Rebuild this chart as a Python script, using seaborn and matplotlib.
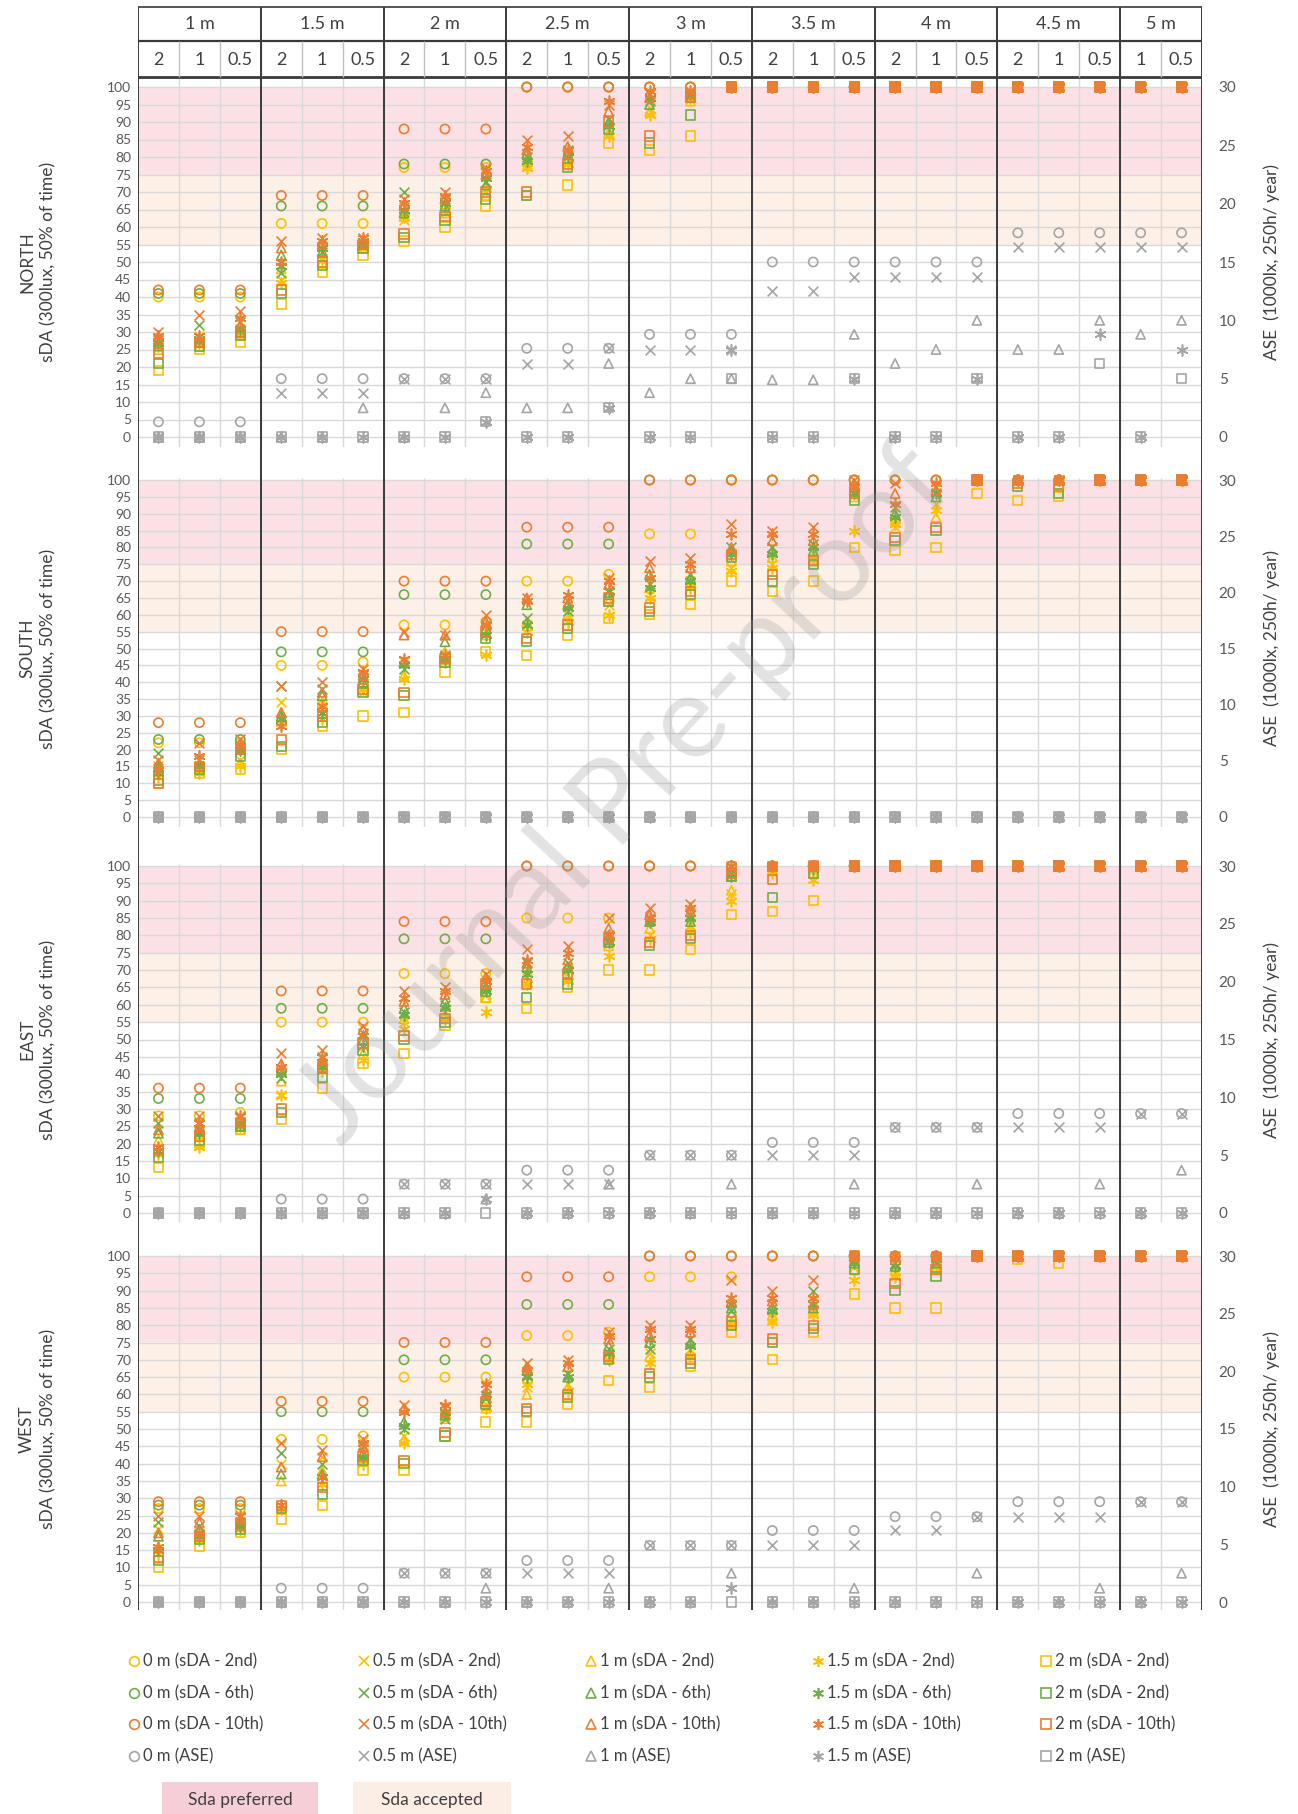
import matplotlib
matplotlib.use("Agg")
import matplotlib.pyplot as plt
import numpy as np
import pandas as pd
import seaborn as sns
from matplotlib.patches import Rectangle

sns.set_theme(style="white")
plt.rcParams['font.family'] = ['Lato', 'DejaVu Sans']

# ---------------- categories ----------------
GROUPS = ['1 m', '1.5 m', '2 m', '2.5 m', '3 m', '3.5 m', '4 m', '4.5 m', '5 m']
GROUP_SIZES = [3, 3, 3, 3, 3, 3, 3, 3, 2]
SUB_LABELS = ['2', '1', '0.5', '2', '1', '0.5', '2', '1', '0.5', '2', '1', '0.5', '2', '1', '0.5',
              '2', '1', '0.5', '2', '1', '0.5', '2', '1', '0.5', '1', '0.5']
DEPTHS = ['0 m', '0.5 m', '1 m', '1.5 m', '2 m']
METRICS = ['sDA - 2nd', 'sDA - 6th', 'sDA - 10th', 'ASE']
PANEL_NAMES = ['NORTH', 'SOUTH', 'EAST', 'WEST']

# ---------------- NORTH ----------------
N_0M_2ND = [40, 40, 40, 61, 61, 61, 77, 77, 77, 100, 100, 100, 100, 100, 100, 100, 100, 100, 100, 100, 100, 100, 100, 100, 100, 100]
N_0M_6TH = [41, 41, 41, 66, 66, 66, 78, 78, 78, 100, 100, 100, 100, 100, 100, 100, 100, 100, 100, 100, 100, 100, 100, 100, 100, 100]
N_0M_10TH = [42, 42, 42, 69, 69, 69, 88, 88, 88, 100, 100, 100, 100, 100, 100, 100, 100, 100, 100, 100, 100, 100, 100, 100, 100, 100]
N_0M_ASE = [1.3, 1.3, 1.3, 5.0, 5.0, 5.0, 5.0, 5.0, 5.0, 7.6, 7.6, 7.6, 8.8, 8.8, 8.8, 15.0, 15.0, 15.0, 15.0, 15.0, 15.0, 17.5, 17.5, 17.5, 17.5, 17.5]
N_05_2ND = [27, 29, 31, 45, 51, 54, 62, 64, 70, 78, 80, 88, 94, 97, 100, 100, 100, 100, 100, 100, 100, 100, 100, 100, 100, 100]
N_05_6TH = [28, 32, 33, 47, 53, 55, 70, 68, 73, 80, 82, 91, 96, 98, 100, 100, 100, 100, 100, 100, 100, 100, 100, 100, 100, 100]
N_05_10TH = [30, 35, 36, 56, 57, 57, 68, 70, 77, 85, 86, 95, 98, 99, 100, 100, 100, 100, 100, 100, 100, 100, 100, 100, 100, 100]
N_05_ASE = [0, 0, 0, 3.8, 3.8, 3.8, 5.0, 5.0, 5.0, 6.3, 6.3, 7.6, 7.5, 7.5, 7.5, 12.5, 12.5, 13.7, 13.7, 13.7, 13.7, 16.3, 16.3, 16.3, 16.3, 16.3]
N_1_2ND = [25, 26, 29, 48, 50, 54, 63, 64, 69, 79, 79, 87, 93, 96, 100, 100, 100, 100, 100, 100, 100, 100, 100, 100, 100, 100]
N_1_6TH = [26, 27, 30, 52, 53, 55, 64, 66, 72, 81, 81, 90, 95, 97, 100, 100, 100, 100, 100, 100, 100, 100, 100, 100, 100, 100]
N_1_10TH = [28, 28, 32, 54, 55, 56, 66, 68, 75, 82, 83, 93, 97, 98, 100, 100, 100, 100, 100, 100, 100, 100, 100, 100, 100, 100]
N_1_ASE = [0, 0, 0, 0, 0, 2.5, 0, 2.5, 3.8, 2.5, 2.5, 6.3, 3.8, 5.0, 5.0, 4.9, 4.9, 8.8, 6.3, 7.5, 10.0, 7.5, 7.5, 10.0, 8.8, 10.0]
N_15_2ND = [26, 27, 30, 44, 51, 55, 63, 65, 71, 77, 78, 86, 92, 97, 100, 100, 100, 100, 100, 100, 100, 100, 100, 100, 100, 100]
N_15_6TH = [27, 28, 31, 49, 54, 56, 65, 67, 74, 79, 80, 89, 97, 98, 100, 100, 100, 100, 100, 100, 100, 100, 100, 100, 100, 100]
N_15_10TH = [29, 29, 34, 50, 56, 57, 67, 69, 76, 83, 82, 96, 99, 99, 100, 100, 100, 100, 100, 100, 100, 100, 100, 100, 100, 100]
N_15_ASE = [0, 0, 0, 0, 0, 0, 0, 0, 1.3, 0, 0, 2.5, 0, 0, 7.5, 0, 0, 5.0, 0, 0, 5.0, 0, 0, 8.8, 0, 7.5]
N_2_2ND = [19, 25, 27, 38, 47, 52, 56, 60, 66, 69, 72, 84, 82, 86, 100, 100, 100, 100, 100, 100, 100, 100, 100, 100, 100, 100]
N_2_6TH = [21, 26, 29, 41, 49, 54, 57, 62, 68, 69, 77, 88, 84, 92, 100, 100, 100, 100, 100, 100, 100, 100, 100, 100, 100, 100]
N_2_10TH = [24, 27, 30, 42, 50, 55, 58, 63, 70, 70, 78, 90, 86, 97, 100, 100, 100, 100, 100, 100, 100, 100, 100, 100, 100, 100]
N_2_ASE = [0, 0, 0, 0, 0, 0, 0, 0, 1.3, 0, 0, 2.5, 0, 0, 5.0, 0, 0, 5.0, 0, 0, 5.0, 0, 0, 6.3, 0, 5.0]

# ---------------- SOUTH ----------------
S_0M_2ND = [22, 22, 22, 45, 45, 46, 57, 57, 58, 70, 70, 72, 84, 84, 100, 100, 100, 100, 100, 100, 100, 100, 100, 100, 100, 100]
S_0M_6TH = [23, 23, 23, 49, 49, 49, 66, 66, 66, 81, 81, 81, 100, 100, 100, 100, 100, 100, 100, 100, 100, 100, 100, 100, 100, 100]
S_0M_10TH = [28, 28, 28, 55, 55, 55, 70, 70, 70, 86, 86, 86, 100, 100, 100, 100, 100, 100, 100, 100, 100, 100, 100, 100, 100, 100]
S_0M_ASE = [0, 0, 0, 0, 0, 0, 0, 0, 0, 0, 0, 0, 0, 0, 0, 0, 0, 0, 0, 0, 0, 0, 0, 0, 0, 0]
S_05_2ND = [15, 15, 17, 34, 33, 37, 46, 47, 55, 57, 60, 63, 66, 70, 74, 75, 78, 96, 86, 93, 100, 100, 100, 100, 100, 100]
S_05_6TH = [19, 17, 21, 39, 38, 42, 44, 48, 57, 59, 61, 67, 69, 72, 80, 80, 81, 98, 92, 96, 100, 100, 100, 100, 100, 100]
S_05_10TH = [17, 22, 23, 39, 40, 44, 55, 54, 60, 65, 64, 71, 76, 77, 87, 85, 86, 100, 99, 98, 100, 100, 100, 100, 100, 100]
S_05_ASE = [0, 0, 0, 0, 0, 0, 0, 0, 0, 0, 0, 0, 0, 0, 0, 0, 0, 0, 0, 0, 0, 0, 0, 0, 0, 0]
S_1_2ND = [14, 14, 16, 31, 34, 38, 42, 49, 54, 58, 60, 64, 68, 69, 76, 77, 76, 95, 88, 89, 100, 100, 100, 100, 100, 100]
S_1_6TH = [15, 15, 20, 30, 36, 40, 46, 52, 56, 63, 63, 66, 72, 71, 79, 79, 79, 97, 90, 95, 100, 100, 100, 100, 100, 100]
S_1_10TH = [16, 16, 22, 31, 37, 42, 54, 54, 58, 65, 65, 69, 74, 74, 80, 82, 82, 99, 96, 97, 100, 100, 100, 100, 100, 100]
S_1_ASE = [0, 0, 0, 0, 0, 0, 0, 0, 0, 0, 0, 0, 0, 0, 0, 0, 0, 0, 0, 0, 0, 0, 0, 0, 0, 0]
S_15_2ND = [12, 13, 15, 28, 29, 38, 41, 46, 48, 55, 58, 60, 65, 68, 73, 74, 77, 85, 87, 91, 100, 100, 100, 100, 100, 100]
S_15_6TH = [13, 15, 20, 29, 31, 41, 45, 47, 54, 57, 62, 67, 68, 70, 78, 78, 80, 96, 89, 96, 100, 100, 100, 100, 100, 100]
S_15_10TH = [14, 18, 21, 27, 33, 43, 47, 48, 57, 64, 66, 70, 71, 75, 84, 84, 84, 98, 93, 99, 100, 100, 100, 100, 100, 100]
S_15_ASE = [0, 0, 0, 0, 0, 0, 0, 0, 0, 0, 0, 0, 0, 0, 0, 0, 0, 0, 0, 0, 0, 0, 0, 0, 0, 0]
S_2_2ND = [10, 13, 14, 20, 27, 30, 31, 43, 49, 48, 54, 59, 60, 63, 70, 67, 70, 80, 79, 80, 96, 94, 95, 100, 100, 100]
S_2_6TH = [11, 14, 18, 21, 28, 37, 36, 46, 53, 52, 56, 64, 61, 66, 77, 70, 75, 94, 82, 85, 100, 98, 96, 100, 100, 100]
S_2_10TH = [10, 15, 20, 23, 30, 38, 37, 47, 55, 53, 57, 65, 62, 67, 78, 72, 76, 96, 83, 86, 100, 99, 98, 100, 100, 100]
S_2_ASE = [0, 0, 0, 0, 0, 0, 0, 0, 0, 0, 0, 0, 0, 0, 0, 0, 0, 0, 0, 0, 0, 0, 0, 0, 0, 0]

# ---------------- EAST ----------------
E_0M_2ND = [28, 28, 29, 55, 55, 55, 69, 69, 69, 85, 85, 85, 100, 100, 100, 100, 100, 100, 100, 100, 100, 100, 100, 100, 100, 100]
E_0M_6TH = [33, 33, 33, 59, 59, 59, 79, 79, 79, 100, 100, 100, 100, 100, 100, 100, 100, 100, 100, 100, 100, 100, 100, 100, 100, 100]
E_0M_10TH = [36, 36, 36, 64, 64, 64, 84, 84, 84, 100, 100, 100, 100, 100, 100, 100, 100, 100, 100, 100, 100, 100, 100, 100, 100, 100]
E_0M_ASE = [0, 0, 0, 1.2, 1.2, 1.2, 2.5, 2.5, 2.5, 3.7, 3.7, 3.7, 5.0, 5.0, 5.0, 6.1, 6.1, 6.1, 7.4, 7.4, 7.4, 8.6, 8.6, 8.6, 8.6, 8.6]
E_05_2ND = [24, 24, 25, 34, 43, 48, 55, 58, 63, 70, 70, 78, 80, 83, 92, 99, 99, 100, 100, 100, 100, 100, 100, 100, 100, 100]
E_05_6TH = [26, 26, 26, 39, 45, 52, 58, 60, 66, 72, 72, 80, 85, 86, 98, 100, 100, 100, 100, 100, 100, 100, 100, 100, 100, 100]
E_05_10TH = [28, 28, 28, 46, 47, 54, 64, 65, 69, 76, 77, 85, 88, 89, 100, 100, 100, 100, 100, 100, 100, 100, 100, 100, 100, 100]
E_05_ASE = [0, 0, 0, 0, 0, 0, 2.5, 2.5, 2.5, 2.5, 2.5, 2.5, 5.0, 5.0, 5.0, 5.0, 5.0, 5.0, 7.4, 7.4, 7.4, 7.4, 7.4, 7.4, 8.6, 8.6]
E_1_2ND = [21, 22, 24, 38, 42, 46, 56, 57, 62, 67, 68, 77, 82, 82, 93, 99, 98, 100, 100, 100, 100, 100, 100, 100, 100, 100]
E_1_6TH = [23, 24, 25, 41, 43, 50, 59, 61, 65, 71, 71, 80, 84, 84, 97, 100, 100, 100, 100, 100, 100, 100, 100, 100, 100, 100]
E_1_10TH = [24, 25, 27, 43, 44, 53, 61, 63, 68, 72, 73, 82, 86, 87, 99, 100, 100, 100, 100, 100, 100, 100, 100, 100, 100, 100]
E_1_ASE = [0, 0, 0, 0, 0, 0, 0, 0, 1.2, 0, 0, 2.5, 0, 0, 2.5, 0, 0, 2.5, 0, 0, 2.5, 0, 0, 2.5, 0, 3.7]
E_15_2ND = [17, 19, 25, 34, 41, 44, 53, 56, 58, 66, 67, 74, 79, 81, 90, 98, 96, 100, 100, 100, 100, 100, 100, 100, 100, 100]
E_15_6TH = [18, 23, 26, 40, 42, 48, 57, 59, 64, 69, 70, 78, 84, 85, 97, 100, 99, 100, 100, 100, 100, 100, 100, 100, 100, 100]
E_15_10TH = [19, 26, 28, 42, 45, 51, 62, 64, 67, 73, 75, 80, 85, 88, 100, 100, 100, 100, 100, 100, 100, 100, 100, 100, 100, 100]
E_15_ASE = [0, 0, 0, 0, 0, 0, 0, 0, 1.2, 0, 0, 0, 0, 0, 0, 0, 0, 0, 0, 0, 0, 0, 0, 0, 0, 0]
E_2_2ND = [13, 20, 24, 27, 36, 43, 46, 54, 62, 59, 65, 70, 70, 76, 86, 87, 90, 100, 100, 100, 100, 100, 100, 100, 100, 100]
E_2_6TH = [16, 21, 25, 29, 39, 47, 50, 55, 64, 62, 66, 78, 77, 79, 97, 91, 98, 100, 100, 100, 100, 100, 100, 100, 100, 100]
E_2_10TH = [18, 22, 26, 30, 42, 49, 51, 56, 66, 66, 69, 79, 78, 80, 98, 96, 100, 100, 100, 100, 100, 100, 100, 100, 100, 100]
E_2_ASE = [0, 0, 0, 0, 0, 0, 0, 0, 0, 0, 0, 0, 0, 0, 0, 0, 0, 0, 0, 0, 0, 0, 0, 0, 0, 0]

# ---------------- WEST ----------------
W_0M_2ND = [27, 27, 27, 47, 47, 48, 65, 65, 65, 77, 77, 78, 94, 94, 94, 100, 100, 100, 100, 100, 100, 100, 100, 100, 100, 100]
W_0M_6TH = [28, 28, 28, 55, 55, 55, 70, 70, 70, 86, 86, 86, 100, 100, 100, 100, 100, 100, 100, 100, 100, 100, 100, 100, 100, 100]
W_0M_10TH = [29, 29, 29, 58, 58, 58, 75, 75, 75, 94, 94, 94, 100, 100, 100, 100, 100, 100, 100, 100, 100, 100, 100, 100, 100, 100]
W_0M_ASE = [0, 0, 0, 1.2, 1.2, 1.2, 2.5, 2.5, 2.5, 3.6, 3.6, 3.6, 4.9, 4.9, 4.9, 6.2, 6.2, 6.2, 7.4, 7.4, 7.4, 8.7, 8.7, 8.7, 8.7, 8.7]
W_05_2ND = [21, 20, 22, 40, 42, 43, 48, 54, 57, 62, 63, 72, 72, 73, 82, 82, 87, 97, 95, 97, 100, 100, 100, 100, 100, 100]
W_05_6TH = [23, 22, 23, 43, 40, 45, 50, 53, 59, 66, 66, 73, 73, 76, 84, 86, 90, 99, 98, 98, 100, 100, 100, 100, 100, 100]
W_05_10TH = [25, 25, 25, 46, 44, 47, 57, 56, 62, 69, 70, 78, 80, 80, 93, 90, 93, 100, 100, 100, 100, 100, 100, 100, 100, 100]
W_05_ASE = [0, 0, 0, 0, 0, 0, 2.5, 2.5, 2.5, 2.5, 2.5, 2.5, 4.9, 4.9, 4.9, 4.9, 4.9, 4.9, 6.2, 6.2, 7.4, 7.4, 7.4, 7.4, 8.7, 8.7]
W_1_2ND = [16, 19, 21, 35, 38, 41, 47, 53, 56, 60, 62, 71, 71, 72, 80, 83, 84, 96, 96, 96, 100, 100, 100, 100, 100, 100]
W_1_6TH = [19, 21, 23, 37, 37, 43, 52, 54, 58, 67, 65, 74, 75, 75, 85, 85, 85, 98, 97, 98, 100, 100, 100, 100, 100, 100]
W_1_10TH = [20, 23, 24, 39, 42, 45, 56, 55, 60, 68, 68, 76, 77, 78, 87, 87, 86, 100, 100, 100, 100, 100, 100, 100, 100, 100]
W_1_ASE = [0, 0, 0, 0, 0, 0, 0, 0, 1.2, 0, 0, 1.2, 0, 0, 2.5, 0, 0, 1.2, 0, 0, 2.5, 0, 0, 1.2, 0, 2.5]
W_15_2ND = [14, 18, 21, 27, 34, 40, 46, 54, 56, 63, 61, 70, 69, 71, 81, 81, 83, 93, 94, 97, 100, 100, 100, 100, 100, 100]
W_15_6TH = [15, 19, 22, 28, 36, 42, 51, 55, 60, 65, 65, 72, 76, 74, 86, 84, 86, 98, 97, 99, 100, 100, 100, 100, 100, 100]
W_15_10TH = [16, 20, 25, 28, 36, 46, 55, 57, 63, 67, 69, 77, 79, 79, 88, 88, 88, 100, 99, 100, 100, 100, 100, 100, 100, 100]
W_15_ASE = [0, 0, 0, 0, 0, 0, 0, 0, 0, 0, 0, 0, 0, 0, 1.2, 0, 0, 0, 0, 0, 0, 0, 0, 0, 0, 0]
W_2_2ND = [10, 16, 20, 24, 28, 38, 38, 48, 52, 52, 57, 64, 62, 68, 78, 70, 78, 89, 85, 85, 100, 99, 98, 100, 100, 100]
W_2_6TH = [12, 18, 21, 27, 31, 41, 40, 48, 57, 55, 59, 70, 65, 69, 80, 75, 79, 96, 90, 94, 100, 100, 100, 100, 100, 100]
W_2_10TH = [13, 19, 22, 28, 33, 42, 41, 49, 58, 56, 60, 71, 66, 70, 81, 76, 80, 100, 92, 96, 100, 100, 100, 100, 100, 100]
W_2_ASE = [0, 0, 0, 0, 0, 0, 0, 0, 0, 0, 0, 0, 0, 0, 0, 0, 0, 0, 0, 0, 0, 0, 0, 0, 0, 0]

SERIES = {
    'NORTH': [[N_0M_2ND, N_0M_6TH, N_0M_10TH, N_0M_ASE], [N_05_2ND, N_05_6TH, N_05_10TH, N_05_ASE],
              [N_1_2ND, N_1_6TH, N_1_10TH, N_1_ASE], [N_15_2ND, N_15_6TH, N_15_10TH, N_15_ASE],
              [N_2_2ND, N_2_6TH, N_2_10TH, N_2_ASE]],
    'SOUTH': [[S_0M_2ND, S_0M_6TH, S_0M_10TH, S_0M_ASE], [S_05_2ND, S_05_6TH, S_05_10TH, S_05_ASE],
              [S_1_2ND, S_1_6TH, S_1_10TH, S_1_ASE], [S_15_2ND, S_15_6TH, S_15_10TH, S_15_ASE],
              [S_2_2ND, S_2_6TH, S_2_10TH, S_2_ASE]],
    'EAST': [[E_0M_2ND, E_0M_6TH, E_0M_10TH, E_0M_ASE], [E_05_2ND, E_05_6TH, E_05_10TH, E_05_ASE],
             [E_1_2ND, E_1_6TH, E_1_10TH, E_1_ASE], [E_15_2ND, E_15_6TH, E_15_10TH, E_15_ASE],
             [E_2_2ND, E_2_6TH, E_2_10TH, E_2_ASE]],
    'WEST': [[W_0M_2ND, W_0M_6TH, W_0M_10TH, W_0M_ASE], [W_05_2ND, W_05_6TH, W_05_10TH, W_05_ASE],
             [W_1_2ND, W_1_6TH, W_1_10TH, W_1_ASE], [W_15_2ND, W_15_6TH, W_15_10TH, W_15_ASE],
             [W_2_2ND, W_2_6TH, W_2_10TH, W_2_ASE]],
}

rows = []
for p in PANEL_NAMES:
    for di, d in enumerate(DEPTHS):
        for mi, m in enumerate(METRICS):
            for c, v in enumerate(SERIES[p][di][mi]):
                rows.append({'panel': p, 'col': c, 'depth': d, 'metric': m, 'value': v})
df = pd.DataFrame(rows)

# ---------------- styles ----------------
MARKERS = {'0 m': 'o', '0.5 m': 'x', '1 m': '^', '1.5 m': (6, 2, 0), '2 m': 's'}
MSIZES = {'0 m': 44, '0.5 m': 50, '1 m': 44, '1.5 m': 60, '2 m': 44}
FILLED = {'0 m': True, '0.5 m': False, '1 m': True, '1.5 m': False, '2 m': True}
COLORS = {'sDA - 2nd': '#FFC000', 'sDA - 6th': '#70AD47', 'sDA - 10th': '#ED7D31', 'ASE': '#A5A5A5'}
PINK = '#FBE1E5'
PEACH = '#FDF0E7'
GRID = '#D9D9D9'
DARK = '#3A3A3A'
TXT = '#595959'
MLW = 1.2

W, H = 1298, 1814
fig = plt.figure(figsize=(W / 100, H / 100), dpi=100)


def frac(x0, y0, x1, y1):
    return [x0 / W, 1 - y1 / H, (x1 - x0) / W, (y1 - y0) / H]


X0, X1 = 138, 1202
# name, y(100), y(0), axes top, axes bottom  (pixels)
PANEL_GEOM = [('NORTH', 87, 437, 77, 447), ('SOUTH', 480, 817, 478, 827),
              ('EAST', 866, 1213, 864, 1222), ('WEST', 1256, 1602, 1254, 1610)]


def draw_series(ax, sub, depth, metric):
    kw = dict(data=sub, x='col', y='value', ax=ax, marker=MARKERS[depth], s=MSIZES[depth],
              color=COLORS[metric], legend=False, zorder=4, clip_on=False)
    if FILLED[depth]:
        kw.update(facecolors='none', edgecolor=COLORS[metric], linewidths=MLW)
    else:
        kw.update(linewidths=MLW)
    sns.scatterplot(**kw)


for name, y100, y0, top, bot in PANEL_GEOM:
    upp = 100.0 / (y0 - y100)
    ylo = -(bot - y0) * upp
    yhi = 100 + (y100 - top) * upp
    ax = fig.add_axes(frac(X0, top, X1, bot))
    ax.axhspan(75, 100, color=PINK, zorder=0, lw=0)
    ax.axhspan(55, 75, color=PEACH, zorder=0, lw=0)
    ax.hlines(np.arange(0, 101, 5), -0.5, 25.5, color=GRID, lw=1.0, zorder=1)
    ax.vlines(np.arange(0.5, 25, 1), ylo, yhi, color=GRID, lw=1.0, zorder=1)

    ax2 = ax.twinx()

    dp = df[df['panel'] == name]
    for m in METRICS[:3]:
        for d in DEPTHS:
            sub = dp[(dp['depth'] == d) & (dp['metric'] == m)]
            draw_series(ax, sub, d, m)
    for d in DEPTHS:
        sub = dp[(dp['depth'] == d) & (dp['metric'] == 'ASE')]
        draw_series(ax2, sub, d, 'ASE')

    ax.set_xlim(-0.5, 25.5)
    ax.set_ylim(ylo, yhi)
    ax2.set_xlim(-0.5, 25.5)
    ax2.set_ylim(ylo * 0.3, yhi * 0.3)
    for a in (ax, ax2):
        for s in a.spines.values():
            s.set_visible(False)
        a.set_xlabel('')
        a.set_ylabel('')
        a.set_xticks([])
        a.grid(False)
    ax.set_yticks(np.arange(0, 101, 5))
    ax.tick_params(axis='y', length=0, pad=5, labelsize=10, labelcolor=TXT)
    ax2.set_yticks(np.arange(0, 31, 5))
    ax2.tick_params(axis='y', length=0, pad=12, labelsize=11, labelcolor=TXT)

    yc = 1 - ((y100 + y0) / 2) / H
    fig.text(27 / W, yc, name, rotation=90, ha='center', va='center', fontsize=12.5, color='#404040')
    fig.text(48 / W, yc, 'sDA (300lux, 50% of time)', rotation=90, ha='center', va='center',
             fontsize=12.5, color='#404040')
    fig.text(1272 / W, yc, 'ASE  (1000lx, 250h/ year)', rotation=90, ha='center', va='center',
             fontsize=12.5, color='#404040')

# ---------------- header table ----------------
hx = fig.add_axes(frac(X0, 5, X1, 79))
hx.set_xlim(-0.5, 25.5)
hx.set_ylim(79, 5)
hx.axis('off')
hx.hlines([7], -0.5, 25.5, color=DARK, lw=1.2)
hx.hlines([41], -0.5, 25.5, color=DARK, lw=1.6)
hx.hlines([77], -0.5, 25.5, color=DARK, lw=2.0)
hx.vlines(np.arange(0.5, 25, 1), 41, 77, color='#BFBFBF', lw=1.0)
start = 0
for g, n in zip(GROUPS, GROUP_SIZES):
    hx.text(start + (n - 1) / 2, 24, g, ha='center', va='center', fontsize=13, color='#404040')
    start += n
for i, lab in enumerate(SUB_LABELS):
    hx.text(i, 60, lab, ha='center', va='center', fontsize=13, color='#404040')

# ---------------- thick group separators (whole table) ----------------
ov = fig.add_axes(frac(X0, 7, X1, 1610))
ov.set_xlim(-0.5, 25.5)
ov.set_ylim(0, 1)
ov.axis('off')
bounds = [-0.5] + list(np.cumsum(GROUP_SIZES) - 0.5)
ov.vlines(bounds, 0, 1, color=DARK, lw=1.4)

# ---------------- legend ----------------
lg = fig.add_axes(frac(0, 1630, W, H))
lg.set_xlim(0, W)
lg.set_ylim(H, 1630)
lg.axis('off')
LEG_X = [134, 364, 591, 818, 1046]
LEG_Y = [1661, 1693, 1724, 1756]
LEG_TEXT = {
    '0 m': ['0 m (sDA - 2nd)', '0 m (sDA - 6th)', '0 m (sDA - 10th)', '0 m (ASE)'],
    '0.5 m': ['0.5 m (sDA - 2nd)', '0.5 m (sDA - 6th)', '0.5 m (sDA - 10th)', '0.5 m (ASE)'],
    '1 m': ['1 m (sDA - 2nd)', '1 m (sDA - 6th)', '1 m (sDA - 10th)', '1 m (ASE)'],
    '1.5 m': ['1.5 m (sDA - 2nd)', '1.5 m (sDA - 6th)', '1.5 m (sDA - 10th)', '1.5 m (ASE)'],
    '2 m': ['2 m (sDA - 2nd)', '2 m (sDA - 2nd)', '2 m (sDA - 10th)', '2 m (ASE)'],
}
for d, lx in zip(DEPTHS, LEG_X):
    for m, ly, txt in zip(METRICS, LEG_Y, LEG_TEXT[d]):
        msz = 8 if d == '1.5 m' else 7
        if FILLED[d]:
            lg.plot([lx], [ly], marker=MARKERS[d], ms=msz, mfc='none', mec=COLORS[m], mew=MLW, ls='none')
        else:
            lg.plot([lx], [ly], marker=MARKERS[d], ms=msz, color=COLORS[m], mew=MLW, ls='none')
        lg.text(lx + 9, ly, txt, ha='left', va='center', fontsize=12, color='#404040')

lg.add_patch(Rectangle((162, 1782), 156, 40, color='#F5CED7', lw=0))
lg.text(240, 1800, 'Sda preferred', ha='center', va='center', fontsize=12.5, color='#404040')
lg.add_patch(Rectangle((353, 1782), 158, 40, color='#FCEEE5', lw=0))
lg.text(432, 1800, 'Sda accepted', ha='center', va='center', fontsize=12.5, color='#404040')

# watermark
fig.text(625 / W, 1 - 795 / H, 'Journal Pre-proof', rotation=47, ha='center', va='center',
         fontsize=84, color='#9A9A9A', alpha=0.28, zorder=100)

fig.savefig('out.png', dpi=100)
